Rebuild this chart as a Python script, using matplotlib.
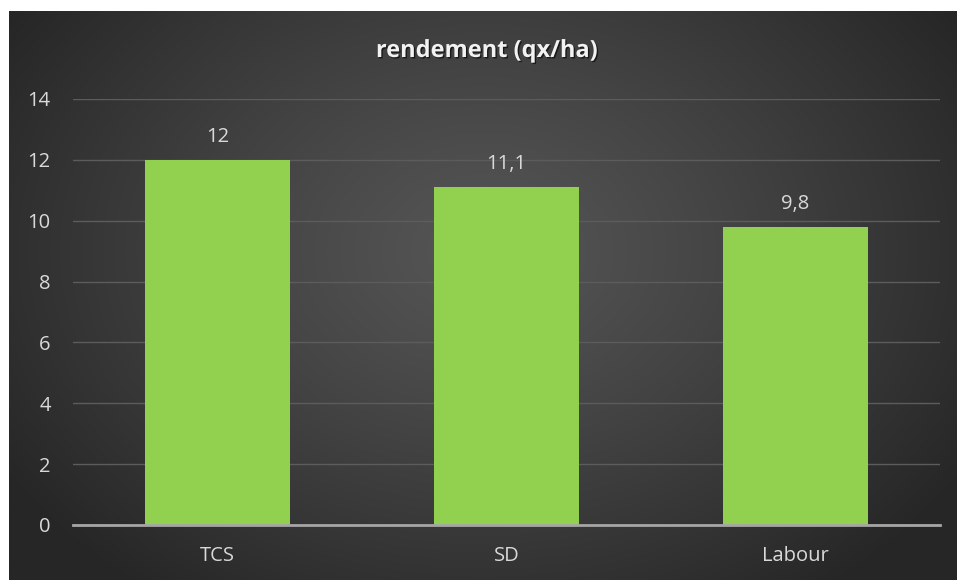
import numpy as np
import matplotlib
matplotlib.use("Agg")
import matplotlib.pyplot as plt
import matplotlib.patheffects as pe

categories = ["TCS", "SD", "Labour"]
values = [12, 11.1, 9.8]
value_labels = ["12", "11,1", "9,8"]
yticks = [0, 2, 4, 6, 8, 10, 12, 14]
title = "rendement (qx/ha)"

W, H = 957, 580
fig = plt.figure(figsize=(W / 100, H / 100), dpi=100)
fig.patch.set_facecolor("white")

# radial gradient background
bg = fig.add_axes([9 / W, 0, 948 / W, 569 / H])
bg.set_axis_off()
ny, nx = 300, 500
yy, xx = np.mgrid[0:ny, 0:nx]
cx, cy = nx * 0.5, ny * 0.42
r = np.sqrt(((xx - cx) / (nx * 0.6)) ** 2 + ((yy - cy) / (ny * 0.75)) ** 2)
r = np.clip(r, 0, 1)
inner, outer = 0x55 / 255, 0x26 / 255
g = inner + (outer - inner) * r ** 1.2
img = np.dstack([g, g, g])
bg.imshow(img, aspect="auto", extent=[0, 1, 0, 1], origin="upper")
bg.set_xlim(0, 1)
bg.set_ylim(0, 1)

x0, x1 = 73 / W, 940 / W
ytop, ybot = 99, 525
ax = fig.add_axes([x0, 1 - ybot / H, x1 - x0, (ybot - ytop) / H])
ax.patch.set_alpha(0)
x = np.arange(len(categories))
bars = ax.bar(x, values, width=0.5, color="#92d050", zorder=3)
ax.set_xlim(-0.5, len(categories) - 0.5)
ax.set_ylim(0, 14)
ax.set_yticks(yticks)
ax.set_yticklabels([str(t) for t in yticks])
ax.set_xticks(x)
ax.set_xticklabels(categories)
for s in ["top", "right", "left"]:
    ax.spines[s].set_visible(False)
ax.spines["bottom"].set_color("#a6a6a6")
ax.spines["bottom"].set_linewidth(2)
ax.spines["bottom"].set_zorder(4)
ax.grid(axis="y", color="#5c5c5c", linewidth=1, zorder=0)
ax.tick_params(axis="both", length=0, colors="#d9d9d9", labelsize=14.5)
ax.tick_params(axis="y", pad=16)
ax.tick_params(axis="x", pad=15)
for lab in ax.get_xticklabels() + ax.get_yticklabels():
    lab.set_fontfamily("Open Sans")
    lab.set_color("#d9d9d9")

for xi, v, lbl in zip(x, values, value_labels):
    ax.annotate(lbl, (xi, v), xytext=(0, 13), textcoords="offset points",
                ha="center", va="baseline", color="#d9d9d9", fontsize=14.5,
                fontfamily="Open Sans")

fig.text(487 / W, 1 - 51 / H, title, ha="center", va="center",
         color="#f2f2f2", fontsize=17, fontweight="bold",
         fontfamily="Open Sans",
         path_effects=[pe.withSimplePatchShadow(offset=(1, -1), shadow_rgbFace="black", alpha=0.6)])

fig.savefig("out.png", dpi=100)
